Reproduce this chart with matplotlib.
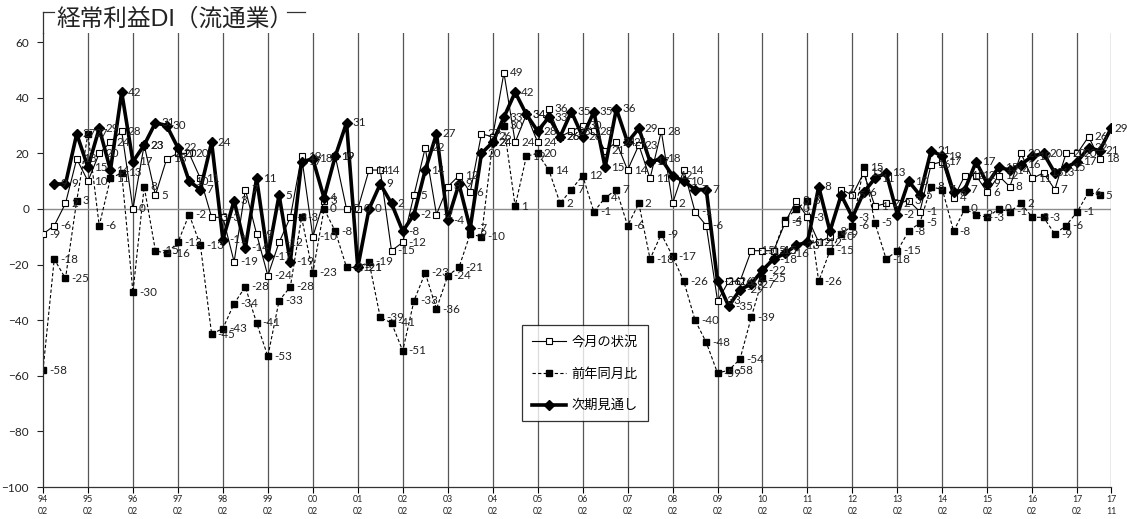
import numpy as np
import matplotlib
matplotlib.use("Agg")
import matplotlib.pyplot as plt
from matplotlib.lines import Line2D

plt.rcParams['font.family'] = ['Lato', 'Noto Sans CJK JP', 'DejaVu Sans']

nan = np.nan

# quarterly periods 1994/02 .. 2017/11
years = [f"{y % 100:02d}" for y in range(1994, 2018)]

# 今月の状況
current = [
    -9, -6, 2, 18,
    10, 20, 24, 28,
    0, 23, 5, 18,
    20, 20, 11, -3,
    -3, -19, 7, -9,
    -24, -12, -3, 19,
    -10, 3, 19, 0,
    0, 14, 14, -15,
    -12, 5, 22, -2,
    8, 12, 6, 27,
    26, 49, 24, 34,
    24, 36, 26, 28,
    30, 28, 21, 24,
    14, 23, 11, 28,
    2, 14, -1, -6,
    -33, -26, -26, -15,
    -15, -15, -5, 3,
    -3, -12, -10, 7,
    5, 13, 1, 2,
    2, 3, -1, 16,
    17, 4, 12, 12,
    6, 12, 8, 20,
    11, 13, 7, 20,
    20, 26, 18, nan,
]

# 前年同月比
yoy = [
    -58, -18, -25, 3,
    27, -6, 11, 13,
    -30, 8, -15, -16,
    -12, -2, -13, -45,
    -43, -34, -28, -41,
    -53, -33, -28, -3,
    -23, 0, -8, -21,
    -21, -19, -39, -41,
    -51, -33, -23, -36,
    -24, -21, -9, -10,
    24, 30, 1, 19,
    20, 14, 2, 7,
    12, -1, 4, 7,
    -6, 2, -18, -9,
    -17, -26, -40, -48,
    -59, -58, -54, -39,
    -25, -15, -4, 0,
    3, -26, -15, -9,
    -6, 15, -5, -18,
    -15, -8, -5, 8,
    7, -8, 0, -2,
    -3, 0, -1, 2,
    -3, -3, -9, -6,
    -1, 6, 5, nan,
]

# 次期見通し
outlook = [
    nan, 9, 9, 27,
    15, 29, 14, 42,
    17, 23, 31, 30,
    22, 10, 7, 24,
    -11, 3, -14, 11,
    -17, 5, -19, 17,
    18, 4, 19, 31,
    -21, 0, 9, 2,
    -8, -2, 14, 27,
    -4, 9, -7, 20,
    24, 33, 42, 34,
    28, 33, 26, 35,
    26, 35, 15, 36,
    24, 29, 17, 18,
    12, 10, 7, 7,
    -26, -35, -29, -27,
    -22, -18, -16, -13,
    -12, 8, -8, 5,
    -3, 6, 11, 13,
    -2, 10, 5, 21,
    19, 6, 7, 17,
    9, 15, 14, 16,
    19, 20, 13, 15,
    17, 22, 21, 29,
]

n = len(current)
x = np.arange(n)
tick_pos = list(range(0, n, 4)) + [n - 1]
tick_lab = [f"{y}\n02" for y in years] + ["17\n11"]

W, H = 1127, 519
fig = plt.figure(figsize=(W / 100, H / 100), dpi=100)
L, R, B, T = 43, 1111, 487, 33
ax = fig.add_axes([L / W, 1 - B / H, (R - L) / W, (B - T) / H])

ax.set_xlim(0, n - 1)
ax.set_ylim(-100, 63.3)

# year gridlines
for p in tick_pos[1:]:
    ax.axvline(p, color='#555555', lw=0.9, zorder=0.5)
ax.axhline(0, color='#8c8c8c', lw=1.0, zorder=0.6)

ax.plot(x, yoy, color='black', lw=0.8, ls=(0, (3, 2)), marker='s', ms=4,
        mfc='black', mec='black', zorder=2, label='前年同月比')
ax.plot(x, current, color='black', lw=0.8, marker='s', ms=4.2, mfc='white',
        mec='black', mew=0.8, zorder=3, label='今月の状況')
ax.plot(x, outlook, color='black', lw=2.6, marker='D', ms=4.8, mfc='black',
        mec='black', zorder=4, label='次期見通し')

for series in (yoy, current, outlook):
    for xi, v in zip(x, series):
        if np.isnan(v):
            continue
        dx = 6 if xi < n - 1 else 3
        ax.annotate(f"{int(v)}", (xi, v), xytext=(dx, 0), textcoords='offset pixels',
                    ha='left', va='center', fontsize=8.4, color='#222222', zorder=5,
                    annotation_clip=False)

ax.set_yticks(np.arange(-100, 61, 20))
ax.set_xticks(tick_pos)
ax.set_xticklabels(tick_lab, fontsize=6.3, linespacing=1.45, color='#222222')
ax.tick_params(axis='y', labelsize=8.5, length=4, width=0.8, pad=6, colors='#222222')
ax.tick_params(axis='x', length=4, width=0.8, pad=1.5)
for s in ('top', 'right'):
    ax.spines[s].set_visible(False)
for s in ('left', 'bottom'):
    ax.spines[s].set_color('#333333')
    ax.spines[s].set_linewidth(0.9)

# title with bracket rule
fig.text(56 / W, 1 - 18 / H, '経常利益DI（流通業）', fontsize=17, va='center', ha='left',
         color='#222222')
ty = 1 - 12 / H
fig.add_artist(Line2D([L / W, L / W], [1 - T / H, ty], color='#333333', lw=0.9))
fig.add_artist(Line2D([L / W, 54 / W], [ty, ty], color='#333333', lw=0.9))
fig.add_artist(Line2D([287 / W, 305 / W], [ty, ty], color='#333333', lw=0.9))

handles, labels = ax.get_legend_handles_labels()
order = [1, 0, 2]
leg = ax.legend([handles[i] for i in order], [labels[i] for i in order],
                loc='upper left', bbox_to_anchor=(522 / W, 1 - 325 / H),
                bbox_transform=fig.transFigure, borderaxespad=0, fontsize=9.5,
                frameon=True, fancybox=False, edgecolor='black', labelspacing=1.45,
                handlelength=2.6, borderpad=0.75, handletextpad=0.4)
leg.get_frame().set_linewidth(0.9)

fig.savefig('out.png', dpi=100)
